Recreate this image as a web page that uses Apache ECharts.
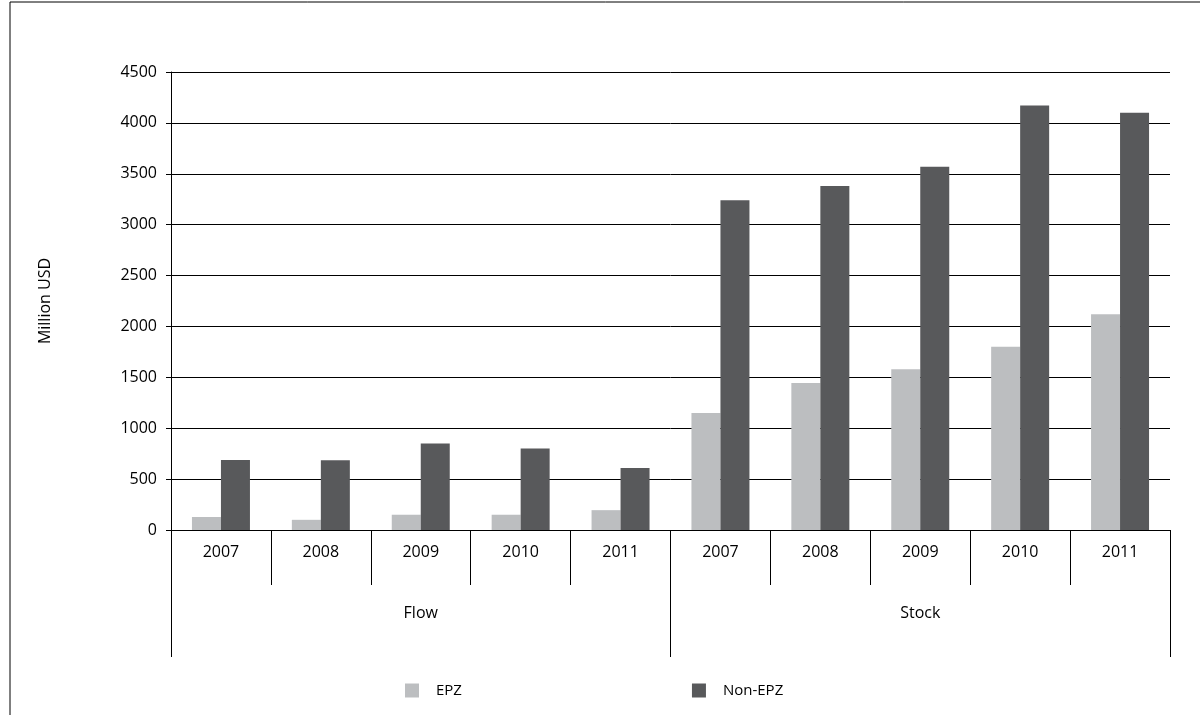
<!DOCTYPE html>
<html>
<head>
<meta charset="utf-8">
<script src="https://cdn.jsdelivr.net/npm/echarts@6/dist/echarts.min.js"></script>
<style>html,body{margin:0;padding:0;background:#fff}#main{width:1200px;height:715px}</style>
</head>
<body>
<div id="main"></div>
<script>
var years = ['2007','2008','2009','2010','2011','2007','2008','2009','2010','2011'];
var groups = ['Flow','Stock'];
var epz = [128,100,150,150,195,1150,1445,1580,1800,2120];
var nonEpz = [688,685,850,800,610,3240,3380,3570,4170,4100];

var myChart = echarts.init(document.getElementById('main'));
var font = 'Open Sans';
var option = {
  textStyle: {fontFamily: font},
  animation: false,
  graphic: [{
    type: 'rect', shape: {x: 10, y: 2, width: 1200, height: 720},
    style: {fill: 'none', stroke: '#000', lineWidth: 1}, silent: true
  }],
  grid: {left: 171, right: 30, top: 72, bottom: 185},
  legend: {
    bottom: 12, left: 400, itemGap: 230, itemWidth: 14, itemHeight: 14,
    icon: 'rect', textStyle: {fontSize: 15, color: '#000', padding: [0, 0, 0, 12]},
    data: ['EPZ', 'Non-EPZ']
  },
  xAxis: [{
    type: 'category', data: years, position: 'bottom',
    axisLine: {lineStyle: {color: '#000'}},
    axisTick: {show: true, length: 55, interval: 0, lineStyle: {color: '#000'}},
    axisLabel: {color: '#000', fontSize: 16, margin: 14}
  }, {
    type: 'category', data: groups, position: 'bottom', offset: 127,
    axisLine: {show: false},
    axisTick: {show: true, inside: true, length: 127, interval: 0, lineStyle: {color: '#000'}},
    axisLabel: {inside: true, color: '#000', fontSize: 16, margin: 36}
  }],
  yAxis: {
    type: 'value', min: 0, max: 4500, interval: 500,
    name: 'Million USD', nameLocation: 'middle', nameGap: 118,
    nameTextStyle: {fontSize: 16, color: '#000'},
    axisLine: {show: true, lineStyle: {color: '#000'}},
    axisTick: {show: true, length: 5, lineStyle: {color: '#000'}},
    axisLabel: {color: '#000', fontSize: 16, margin: 14, formatter: function (v) { return String(v); }},
    splitLine: {lineStyle: {color: '#000'}}
  },
  series: [{
    name: 'EPZ', type: 'bar', data: epz, barWidth: 29, barGap: 0,
    itemStyle: {color: '#bcbec0'}
  }, {
    name: 'Non-EPZ', type: 'bar', data: nonEpz, barWidth: 29,
    itemStyle: {color: '#58595b'}
  }]
};
myChart.setOption(option);
</script>
</body>
</html>
